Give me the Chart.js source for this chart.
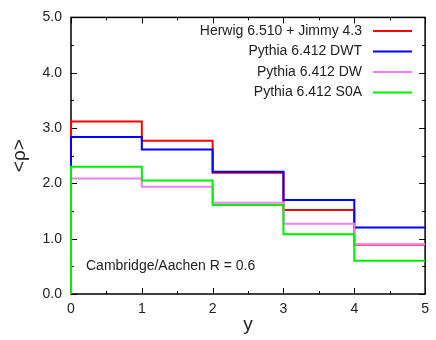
<!DOCTYPE html>
<html>
<head>
<meta charset="utf-8">
<script src="https://cdn.jsdelivr.net/npm/chart.js@4.4.0/dist/chart.umd.min.js"></script>
<style>
  html, body { margin: 0; padding: 0; background: #fff; }
  #wrap { width: 436px; height: 340px; }
</style>
</head>
<body>
<div id="wrap"><canvas id="rhoChart" width="436" height="340"></canvas></div>
<script>
// bin edges in rapidity y
const binEdges = [0, 1, 2, 3, 4, 5];

// <rho> per bin
const herwigJimmy = [3.12, 2.77, 2.19, 1.52, 0.89];
const pythiaDWT   = [2.84, 2.61, 2.21, 1.70, 1.20];
const pythiaDW    = [2.09, 1.94, 1.65, 1.27, 0.90];
const pythiaS0A   = [2.30, 2.05, 1.61, 1.08, 0.60];

const seriesLabels = ['Herwig 6.510 + Jimmy 4.3', 'Pythia 6.412 DWT', 'Pythia 6.412 DW', 'Pythia 6.412 S0A'];
const seriesColors = ['#ff0000', '#0000ff', '#ee82ee', '#00ee00'];

const yTicks = [0, 1, 2, 3, 4, 5];
const xTicks = [0, 1, 2, 3, 4, 5];

const FONT = 'Liberation Sans, Arial, sans-serif';
const TEXT = '#222';

// turn bin values into step points: start at 0, then one point per bin edge
function stepPoints(values) {
    const pts = [{ x: binEdges[0], y: 0 }];
    values.forEach((v, i) => pts.push({ x: binEdges[i], y: v }));
    pts.push({ x: binEdges[binEdges.length - 1], y: values[values.length - 1] });
    return pts;
}

// frame + inward ticks under the lines, legend and note on top
const framePlugin = {
    id: 'frame',
    beforeDatasetsDraw(chart) {
        const { ctx, chartArea: a, scales } = chart;
        ctx.save();
        ctx.strokeStyle = '#000';
        ctx.lineWidth = 1.5;
        ctx.strokeRect(a.left, a.top, a.right - a.left, a.bottom - a.top);
        ctx.lineWidth = 1;
        ctx.beginPath();
        for (let v = 0; v <= 5.001; v += 0.5) {
            const major = Math.abs(v - Math.round(v)) < 1e-6;
            const len = major ? 6 : 3;
            const px = Math.round(scales.x.getPixelForValue(v)) + 0.5;
            ctx.moveTo(px, a.bottom); ctx.lineTo(px, a.bottom - len);
            ctx.moveTo(px, a.top); ctx.lineTo(px, a.top + len);
            const py = Math.round(scales.y.getPixelForValue(v)) + 0.5;
            ctx.moveTo(a.left, py); ctx.lineTo(a.left + len, py);
            ctx.moveTo(a.right, py); ctx.lineTo(a.right - len, py);
        }
        ctx.stroke();
        ctx.restore();
    },
    afterDatasetsDraw(chart) {
        const { ctx } = chart;
        ctx.save();
        // legend, text right aligned with line sample on the right
        ctx.font = '14px ' + FONT;
        ctx.textAlign = 'right';
        ctx.textBaseline = 'middle';
        chart.data.datasets.forEach((ds, i) => {
            const y = 31 + i * 20.5;
            ctx.fillStyle = TEXT;
            ctx.fillText(ds.label, 362, y);
            ctx.strokeStyle = ds.borderColor;
            ctx.lineWidth = 2;
            ctx.beginPath();
            ctx.moveTo(373, y); ctx.lineTo(412, y);
            ctx.stroke();
        });

        // algorithm note
        ctx.textAlign = 'left';
        ctx.fillStyle = TEXT;
        ctx.fillText('Cambridge/Aachen R = 0.6', 86, 266);
        ctx.restore();
    }
};

const ctx = document.getElementById('rhoChart').getContext('2d');
new Chart(ctx, {
    type: 'scatter',
    data: {
        datasets: [herwigJimmy, pythiaDWT, pythiaDW, pythiaS0A].map((vals, i) => ({
            label: seriesLabels[i],
            data: stepPoints(vals),
            showLine: true,
            stepped: 'before',
            borderColor: seriesColors[i],
            borderWidth: 2,
            pointRadius: 0,
            fill: false,
            clip: 3,
            order: -i // later series on top
        }))
    },
    options: {
        responsive: false,
        animation: false,
        layout: { padding: { top: 13, right: 7, left: 0, bottom: 0 } },
        plugins: {
            legend: { display: false },
            tooltip: { enabled: false }
        },
        scales: {
            x: {
                type: 'linear',
                min: 0,
                max: 5,
                afterBuildTicks: s => { s.ticks = xTicks.map(v => ({ value: v })); },
                afterFit: s => { s.height = 46; },
                grid: { display: false, drawTicks: false },
                border: { display: false },
                ticks: { color: TEXT, padding: 7, font: { family: FONT, size: 14 }, maxRotation: 0 },
                title: { display: true, text: 'y', color: TEXT, padding: { top: 0, bottom: 4 }, font: { family: FONT, size: 19 } }
            },
            y: {
                type: 'linear',
                min: 0,
                max: 5,
                afterBuildTicks: s => { s.ticks = yTicks.map(v => ({ value: v })); },
                afterFit: s => { s.width = 71; },
                grid: { display: false, drawTicks: false },
                border: { display: false },
                ticks: { color: TEXT, padding: 9, font: { family: FONT, size: 14 }, callback: v => v.toFixed(1) },
                title: { display: true, text: '<ρ>', color: TEXT, padding: { top: 8, bottom: 0 }, font: { family: FONT, size: 19 } }
            }
        }
    },
    plugins: [framePlugin]
});
</script>
</body>
</html>
